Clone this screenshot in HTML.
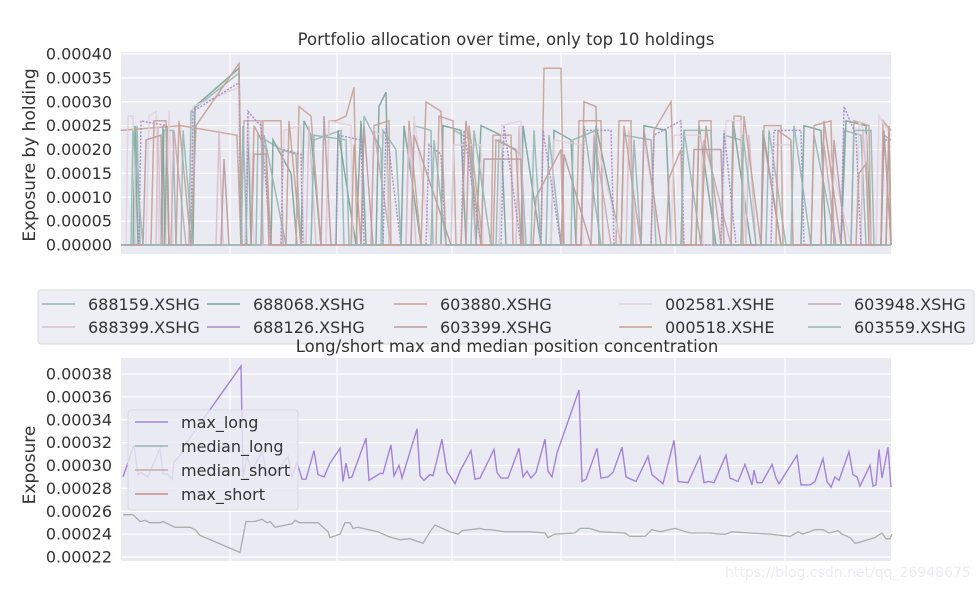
<!DOCTYPE html>
<html><head><meta charset="utf-8"><style>
body{margin:0;background:#fff;}
svg{display:block;font-family:"DejaVu Sans","Liberation Sans",sans-serif;}
</style></head><body>
<svg id="c" width="977" height="589" xmlns="http://www.w3.org/2000/svg"></svg>
<script>
const NS="http://www.w3.org/2000/svg";
const svg=document.getElementById('c');
// ---- data ----
const xGridDays=[109,216,331,440,554,664];
const topTicks=[0,5,10,15,20,25,30,35,40];
const topTickLabels=["0.00000","0.00005","0.00010","0.00015","0.00020","0.00025","0.00030","0.00035","0.00040"];
const botTicks=[22,24,26,28,30,32,34,36,38];
const botTickLabels=["0.00022","0.00024","0.00026","0.00028","0.00030","0.00032","0.00034","0.00036","0.00038"];
const holdingNames=["688159.XSHG","688068.XSHG","603880.XSHG","002581.XSHE","603948.XSHG","688399.XSHG","688126.XSHG","603399.XSHG","000518.XSHE","603559.XSHG"];
const holdingColors=["#93b8b2","#78a597","#c9a395","#e3d2da","#c9a8b2","#d7bfcb","#a58ac6","#bb9b9d","#c79f94","#93b8b2"];
const s688159=[[0,0],[14,0],[16,25],[19,0],[40,0],[43,24],[52,24],[55,0],[68,0],[70,28],[118,36],[121,0],[135,0],[137,23],[160,20],[175,19],[180,0],[190,0],[193,22],[220,24],[223,0],[240,0],[243,27],[260,20],[262,0],[290,0],[293,25],[310,24],[312,0],[330,0],[333,24],[350,22],[355,0],[375,0],[378,22],[400,19],[405,0],[425,0],[428,23],[440,0],[460,0],[463,25],[480,0],[500,0],[503,23],[530,22],[535,0],[560,0],[563,24],[580,0],[600,0],[603,23],[620,22],[625,0],[645,0],[648,24],[665,0],[690,0],[693,23],[715,0],[720,0],[723,24],[740,23],[745,0],[760,0],[763,23],[770,22]];
const s688068=[[0,0],[12,0],[14,25],[17,0],[40,0],[42,25],[44,0],[46,25],[48,0],[72,0],[74,29],[118,37],[120,0],[125,0],[127,26],[130,0],[150,0],[152,22],[170,15],[176,0],[180,0],[183,26],[190,23],[200,0],[215,0],[217,24],[235,0],[240,26],[245,0],[255,0],[258,29],[265,32],[268,0],[280,0],[283,25],[300,0],[320,0],[322,25],[340,24],[345,0],[355,0],[360,25],[380,23],[385,0],[400,0],[402,25],[420,0],[430,0],[433,24],[450,22],[455,0],[470,0],[475,25],[500,0],[520,0],[523,25],[545,24],[550,0],[575,0],[578,25],[595,0],[610,0],[612,26],[630,0],[640,0],[642,24],[660,0],[680,0],[683,25],[700,24],[705,0],[720,0],[725,26],[745,25],[750,0],[765,0],[768,24],[770,0]];
const s603880=[[0,24],[60,25],[116,23],[120,0],[140,0],[142,26],[160,26],[162,0],[175,0],[178,29],[190,27],[200,0],[205,0],[208,26],[215,26],[225,27],[233,33],[236,0],[250,0],[253,25],[268,26],[270,0],[285,0],[288,26],[300,0],[315,0],[318,27],[332,26],[335,0],[345,0],[348,25],[362,0],[370,0],[372,23],[390,23],[392,0],[420,0],[423,37],[440,37],[443,0],[455,0],[458,26],[480,26],[482,0],[495,0],[498,26],[510,26],[512,0],[530,0],[533,24],[550,30],[555,0],[575,0],[578,26],[590,26],[592,0],[610,0],[613,27],[620,27],[622,0],[640,0],[643,25],[660,25],[662,0],[690,0],[693,25],[710,26],[713,0],[730,0],[733,26],[748,25],[750,0],[760,0],[762,26],[770,24]];
const s002581=[[0,0],[5,0],[7,27],[12,27],[15,0],[25,0],[28,27],[35,28],[38,0],[45,0],[48,28],[52,0],[70,0],[72,29],[118,33],[121,0],[124,0],[127,27],[133,0],[160,0],[163,24],[180,25],[183,0],[205,0],[208,26],[230,25],[232,0],[250,0],[253,24],[265,22],[268,0],[290,0],[293,27],[310,0],[330,0],[333,21],[360,21],[362,0],[378,0],[381,25],[400,26],[402,0],[430,0],[433,22],[460,21],[462,0],[470,0],[473,24],[500,0],[520,0],[523,22],[540,0],[550,0],[553,23],[580,23],[582,0],[600,0],[605,26],[620,26],[625,0],[650,0],[652,21],[670,21],[672,0],[700,0],[703,24],[730,0],[735,0],[738,26],[745,23],[748,0],[755,0],[758,27],[770,23]];
const s603948=[[0,0],[50,0],[53,24],[65,0],[120,0],[123,26],[140,26],[142,0],[250,0],[253,24],[270,0],[345,0],[348,22],[355,0],[470,0],[473,23],[490,0],[580,0],[583,22],[610,0],[700,0],[703,21],[715,0],[770,0]];
const s688399=[[0,0],[35,0],[37,25],[40,0],[95,0],[98,24],[102,0],[185,0],[188,25],[195,0],[285,0],[288,24],[295,0],[395,0],[398,25],[403,0],[505,0],[508,24],[515,0],[625,0],[628,23],[635,0],[740,0],[742,24],[750,0]];
const s688126=[[0,0],[18,0],[20,26],[45,25],[48,0],[70,0],[72,28],[118,34],[120,0],[125,0],[127,28],[135,26],[140,25],[150,0],[160,0],[162,20],[180,19],[182,0],[215,0],[217,23],[240,22],[243,0],[262,0],[265,25],[280,0],[305,0],[308,21],[320,19],[325,0],[340,0],[343,24],[360,0],[380,0],[383,25],[400,0],[420,0],[422,24],[440,0],[460,0],[463,24],[490,24],[493,0],[530,0],[533,23],[560,26],[563,0],[600,0],[603,24],[615,0],[650,0],[653,24],[680,24],[683,0],[720,0],[723,29],[735,23],[740,0],[760,0],[763,22],[770,22]];
const s603399=[[0,0],[22,0],[25,22],[40,23],[42,0],[80,0],[100,0],[103,18],[108,0],[130,0],[133,19],[145,19],[148,0],[200,0],[203,27],[210,0],[240,0],[243,25],[252,0],[290,0],[293,23],[330,0],[360,0],[363,18],[400,18],[402,0],[440,0],[443,19],[470,0],[520,0],[523,24],[540,0],[570,0],[573,20],[600,20],[603,0],[640,0],[643,22],[660,0],[710,0],[713,22],[725,0],[760,0],[763,24],[770,0]];
const s000518=[[0,0],[30,0],[33,26],[45,26],[48,0],[55,0],[58,26],[70,0],[75,25],[118,38],[121,0],[130,0],[133,25],[145,20],[150,0],[165,0],[168,26],[180,0],[230,0],[233,21],[240,0],[300,0],[305,30],[320,28],[325,0],[340,0],[345,26],[360,0],[372,0],[375,22],[395,20],[400,0],[412,0],[415,10],[440,20],[442,0],[460,0],[463,30],[475,29],[478,0],[500,0],[503,25],[520,0],[545,0],[548,14],[560,20],[562,0],[580,0],[585,25],[600,0],[620,0],[623,27],[640,0],[655,0],[657,24],[670,22],[672,0],[700,0],[703,26],[720,0],[735,0],[738,15],[745,17],[748,0],[765,0],[768,25],[770,0]];
const s603559=[[0,0],[10,0],[12,24],[22,0],[60,0],[62,24],[72,0],[120,0],[122,25],[126,0],[140,0],[143,23],[165,0],[190,0],[193,23],[225,22],[228,0],[260,0],[262,24],[275,20],[280,0],[310,0],[313,22],[325,0],[350,0],[353,24],[370,0],[410,0],[413,24],[420,0],[450,0],[452,22],[475,24],[478,0],[510,0],[513,22],[520,0],[560,0],[563,24],[590,24],[593,0],[620,0],[622,23],[635,0],[670,0],[673,25],[690,0],[730,0],[733,24],[750,24],[753,0],[770,0]];
const holdingSeries=[s688159,s688068,s603880,s002581,s603948,s688399,s688126,s603399,s000518,s603559];
const maxLong=[[2,29],[13,31.8],[17,29.2],[20,29.4],[27,29],[39,31.5],[42,29.3],[47,29.2],[51,28.8],[53,30.3],[60,31],[64,31.8],[120,38.7],[122,29],[126,30.8],[131,29.6],[141,31.2],[147,29],[154,29.2],[167,30.8],[171,29],[176,30.3],[181,28.8],[185,28.8],[193,31.3],[197,29.2],[203,29],[209,30.2],[219,31.5],[222,28.6],[225,30.2],[228,28.9],[231,29],[245,32.4],[248,28.7],[259,29.3],[262,29.3],[270,31.8],[273,29.1],[278,30],[281,28.9],[296,33.2],[299,29.1],[303,28.7],[309,29.2],[312,29.1],[321,32.3],[326,29.4],[329,29.1],[334,28.4],[339,29.5],[350,31.3],[354,28.8],[359,28.9],[373,31.4],[376,29.4],[380,28.9],[387,28.9],[398,31.5],[402,29],[406,29.5],[410,28.9],[415,29.4],[424,32.3],[427,29.5],[431,29],[436,31.1],[458,36.6],[461,28.6],[465,28.8],[476,31.5],[480,28.9],[487,29],[492,29.4],[501,31.6],[505,29],[515,28.6],[527,30.8],[531,29.2],[538,28.7],[542,28.4],[553,32.2],[557,28.6],[567,28.5],[579,30.8],[583,28.5],[587,28.6],[593,28.5],[605,30.9],[609,28.9],[617,28.6],[624,30.1],[631,28.3],[633,29.6],[636,28.5],[641,28.5],[651,30.1],[655,28.9],[658,28.4],[676,30.9],[680,28.3],[689,28.3],[694,28.6],[702,30.6],[706,28.6],[710,28.1],[714,29],[718,28.7],[728,31.2],[732,29.2],[736,29],[739,28.2],[749,30],[752,28.2],[755,28.3],[758,31.4],[761,28.9],[767,31.6],[770,28.1]];
const medianLong=[[2,25.7],[12,25.7],[19,25.1],[24,25.2],[29,25],[39,25],[42,25.1],[54,24.6],[69,24.6],[74,24.4],[79,23.9],[119,22.4],[125,25.1],[134,25.1],[141,25.3],[146,25],[149,25.1],[154,24.6],[171,24.9],[174,25.2],[179,25],[184,25],[197,25],[207,24.2],[209,23.7],[219,24],[224,25],[229,25],[232,24.5],[237,24.6],[247,24.4],[257,24.2],[267,23.8],[279,23.5],[289,23.6],[302,23.2],[309,24.2],[314,24.8],[324,24.4],[329,24.2],[337,24],[341,24.3],[359,24.5],[364,24.4],[369,24.4],[384,24.2],[391,24.2],[409,24.2],[424,24.1],[427,23.7],[434,24],[454,24.1],[459,24.5],[469,24.5],[479,24.2],[504,24.1],[509,23.8],[524,23.8],[531,24.4],[539,24.2],[554,24.5],[569,24.1],[589,24.1],[599,24],[605,24],[611,24.2],[629,24.1],[649,24],[669,23.8],[677,24.2],[682,24],[694,24.4],[702,24.4],[708,24.1],[717,24.3],[721,24],[729,23.7],[734,23.2],[739,23.3],[754,23.7],[761,24.1],[765,23.6],[769,23.6],[771,24]];
const lsNames=["max_long","median_long","median_short","max_short"];
const lsColors=["#a482e0","#93b8b2","#c9aaa6","#c4917f"];
// ---- helpers ----
const X0=121,X1=891;
function xs(d){return X0+d*(X1-X0)/770;}
function yTop(v){return 245-v*(245-54)/40;}
function yBot(v){return 557-(v-22)*(557-374)/16;}
function mk(tag,attrs,parent){const e=document.createElementNS(NS,tag);for(const k in attrs)e.setAttribute(k,attrs[k]);(parent||svg).appendChild(e);return e;}
function txt(s,attrs,parent){const e=mk('text',attrs,parent);e.textContent=s;return e;}
function drawPanel(y0,y1,ticks,labels,yf,name){
  const g=mk('g',{});
  
  
  mk('rect',{x:X0,y:y0,width:X1-X0,height:y1-y0,fill:'#eaeaf2'},g);
  ticks.forEach((t,i)=>{
    const y=yf(t);
    const gl=mk('line',{x1:X0,x2:X1,y1:y,y2:y,stroke:'#fff','stroke-width':1.2},g);
    
    
    const tl=txt(labels[i],{x:112,y:y+5.5,'text-anchor':'end','font-size':16,fill:'#333'},g);
    
    
  });
  xGridDays.forEach(d=>{
    const vl=mk('line',{x1:xs(d),x2:xs(d),y1:y0,y2:y1,stroke:'#fff','stroke-width':1.2},g);
    
    
  });
  return g;
}
function pathFrom(pts,xf,yf){return pts.map((p,i)=>(i?'L':'M')+xf(p[0]).toFixed(1)+','+yf(p[1]).toFixed(1)).join('');}
// ---- top panel ----
const t1=txt('Portfolio allocation over time, only top 10 holdings',{x:506,y:45,'text-anchor':'middle','font-size':16.5,fill:'#333'});


drawPanel(52,254,topTicks,topTickLabels,yTop,'top');
const ya1=txt('Exposure by holding',{x:0,y:0,'text-anchor':'middle','font-size':17,fill:'#333',transform:'translate(35,155) rotate(-90)'});


holdingSeries.forEach((s,i)=>{
  const p=mk('path',{d:pathFrom(s,xs,yTop),fill:'none',stroke:holdingColors[i],'stroke-width':1.5,opacity:0.9});
  if(i===6)p.setAttribute('stroke-dasharray','2,1.5');
  
  
});
// top legend
const lg=mk('g',{});


mk('rect',{x:38,y:290,width:936,height:54,rx:3,fill:'#eaeaf2','fill-opacity':0.8,stroke:'#d8d8e0'},lg);
const colX=[88,253,440,665,854];
holdingNames.forEach((n,i)=>{
  const c=i%5,r=Math.floor(i/5);
  const tx=colX[c],ty=r?327:304;
  const e=mk('g',{},lg);
  
  
  mk('line',{x1:tx-46,x2:tx-13,y1:ty,y2:ty,stroke:holdingColors[i],'stroke-width':1.5},e);
  txt(n,{x:tx,y:ty+6,'font-size':16,fill:'#333'},e);
});
// ---- bottom panel ----
const t2=txt('Long/short max and median position concentration',{x:507,y:352,'text-anchor':'middle','font-size':16.5,fill:'#333'});


drawPanel(358,561,botTicks,botTickLabels,yBot,'bottom');
const ya2=txt('Exposure',{x:0,y:0,'text-anchor':'middle','font-size':17,fill:'#333',transform:'translate(35,465) rotate(-90)'});


const pm=mk('path',{d:pathFrom(medianLong,xs,yBot),fill:'none',stroke:lsColors[2],'stroke-width':1.3});


const pm2=mk('path',{d:pathFrom(medianLong,xs,yBot),fill:'none',stroke:lsColors[1],'stroke-width':1,opacity:0.8});


const pmax=mk('path',{d:pathFrom(maxLong,xs,yBot),fill:'none',stroke:lsColors[0],'stroke-width':1.4});


const lg2=mk('g',{});


mk('rect',{x:128,y:410,width:170,height:100,rx:3,fill:'#eaeaf2','fill-opacity':0.8,stroke:'#d8d8e0'},lg2);
lsNames.forEach((n,i)=>{
  const ty=422+i*24;
  const e=mk('g',{},lg2);
  
  
  mk('line',{x1:135,x2:168,y1:ty,y2:ty,stroke:lsColors[i],'stroke-width':1.5},e);
  txt(n,{x:181,y:ty+6,'font-size':16,fill:'#333'},e);
});
const wm=txt('https://blog.csdn.net/qq_26948675',{x:725,y:577,'font-size':14,fill:'#ececf0'});


</script>
</body></html>
